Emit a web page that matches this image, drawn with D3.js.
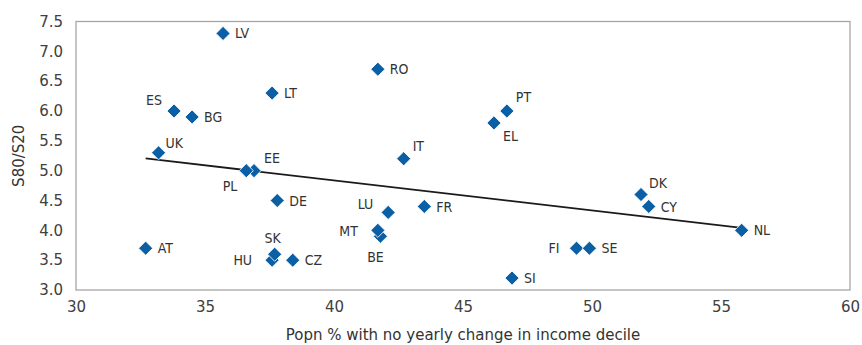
<!DOCTYPE html>
<html>
<head>
<meta charset="utf-8">
<script src="https://cdn.jsdelivr.net/npm/d3@7"></script>
<style>
  html, body { margin: 0; padding: 0; background: #fff; }
  svg { display: block; }
  .tick text { font-family: "DejaVu Sans", sans-serif; font-size: 15px; fill: #404040; }
  .pt-label { font-family: "Liberation Sans Narrow", "DejaVu Sans Condensed", sans-serif; font-stretch: condensed; font-size: 14px; fill: #333; }
  .axis-title { font-family: "DejaVu Sans", sans-serif; font-size: 15px; fill: #333; }
</style>
</head>
<body>
<svg id="chart" width="862" height="345"></svg>
<script>
// Country codes, share of population with no yearly change in income decile (%), and S80/S20 ratio
const countries = ["BE","EE","HU","PL","LV","RO","LT","ES","BG","PT","EL","UK","IT","DE","LU","FR","MT","DK","CY","NL","AT","SK","CZ","FI","SE","SI"];
const noChangeShare = [41.8,36.9,37.6,36.6,35.7,41.7,37.6,33.8,34.5,46.7,46.2,33.2,42.7,37.8,42.1,43.5,41.7,51.9,52.2,55.8,32.7,37.7,38.4,49.4,49.9,46.9];
const s80s20 = [3.9,5.0,3.5,5.0,7.3,6.7,6.3,6.0,5.9,6.0,5.8,5.3,5.2,4.5,4.3,4.4,4.0,4.6,4.4,4.0,3.7,3.6,3.5,3.7,3.7,3.2];

const xTicks = [30,35,40,45,50,55,60];
const yTicks = [3.0,3.5,4.0,4.5,5.0,5.5,6.0,6.5,7.0,7.5];

const xTitle = "Popn % with no yearly change in income decile";
const yTitle = "S80/S20";

// Label placement around each marker: [anchor, dx, dy]
const labelPlacement = {
  ES: ["end", -12, -11], PT: ["start", 9, -14], EL: ["start", 9, 13],
  IT: ["start", 9, -13], UK: ["start", 7, -10], EE: ["start", 10, -13],
  PL: ["end", -9, 15], SK: ["middle", -2, -16], HU: ["end", -20, 0],
  LU: ["end", -15, -8], MT: ["end", -20, 1], BE: ["middle", -5, 21],
  FI: ["end", -17, 0], DK: ["start", 8, -12]
};
const defaultPlacement = ["start", 12, 0];

const points = countries.map((c, i) => ({ code: c, x: noChangeShare[i], y: s80s20[i] }));

const svg = d3.select("#chart");
const margin = { left: 76, right: 12, top: 21.5, bottom: 55 };
const W = 862, H = 345;
const iw = W - margin.left - margin.right;
const ih = H - margin.top - margin.bottom;

const x = d3.scaleLinear().domain([30, 60]).range([margin.left, margin.left + iw]);
const y = d3.scaleLinear().domain([3, 7.5]).range([margin.top + ih, margin.top]);

// Plot frame
svg.append("rect")
  .attr("x", x(30)).attr("y", y(7.5))
  .attr("width", x(60) - x(30)).attr("height", y(3) - y(7.5))
  .attr("fill", "none").attr("stroke", "#a6a6a6").attr("stroke-width", 1.3);

// Axes (labels only)
const xAxis = svg.append("g")
  .attr("transform", `translate(0,${y(3)})`)
  .call(d3.axisBottom(x).tickValues(xTicks).tickFormat(d3.format("d")).tickSize(0).tickPadding(11));
xAxis.select(".domain").remove();

const yAxis = svg.append("g")
  .attr("transform", `translate(${x(30)},0)`)
  .call(d3.axisLeft(y).tickValues(yTicks).tickFormat(d3.format(".1f")).tickSize(0).tickPadding(13));
yAxis.select(".domain").remove();

// Least-squares trend line over the observed x range
const mx = d3.mean(points, d => d.x), my = d3.mean(points, d => d.y);
const sxy = d3.sum(points, d => (d.x - mx) * (d.y - my));
const sxx = d3.sum(points, d => (d.x - mx) ** 2);
const slope = sxy / sxx, intercept = my - slope * mx;
const [xmin, xmax] = d3.extent(points, d => d.x);
svg.append("line")
  .attr("x1", x(xmin)).attr("y1", y(intercept + slope * xmin))
  .attr("x2", x(xmax)).attr("y2", y(intercept + slope * xmax))
  .attr("stroke", "#1a1a1a").attr("stroke-width", 1.8);

// Diamond markers
const diamond = d3.symbol().type(d3.symbolSquare).size(100);
svg.append("g").selectAll("path")
  .data(points)
  .join("path")
  .attr("d", diamond)
  .attr("transform", d => `translate(${x(d.x)},${y(d.y)}) rotate(45)`)
  .attr("fill", "#0b5fa5")
  .attr("stroke", "#fff")
  .attr("stroke-width", 0.8);

// Country labels
svg.append("g").selectAll("text")
  .data(points)
  .join("text")
  .attr("class", "pt-label")
  .attr("text-anchor", d => (labelPlacement[d.code] || defaultPlacement)[0])
  .attr("x", d => x(d.x) + (labelPlacement[d.code] || defaultPlacement)[1])
  .attr("y", d => y(d.y) + (labelPlacement[d.code] || defaultPlacement)[2])
  .attr("dy", "0.36em")
  .text(d => d.code);

// Axis titles
svg.append("text")
  .attr("class", "axis-title")
  .attr("text-anchor", "middle")
  .attr("x", (x(30) + x(60)) / 2)
  .attr("y", 340)
  .text(xTitle);

svg.append("text")
  .attr("class", "axis-title")
  .attr("text-anchor", "middle")
  .attr("transform", `translate(19,${(y(3) + y(7.5)) / 2}) rotate(-90)`)
  .attr("dy", "0.35em")
  .text(yTitle);
</script>
</body>
</html>
